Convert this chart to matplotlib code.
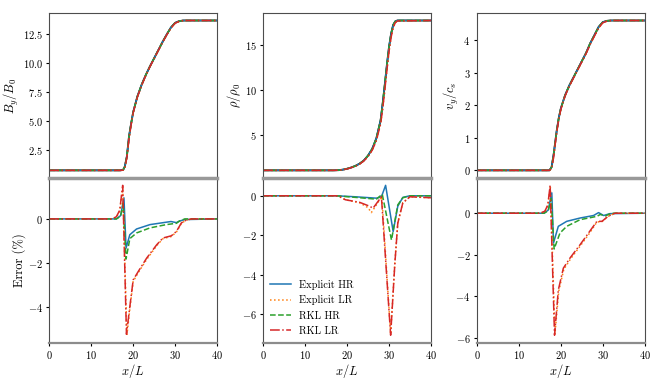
import matplotlib
matplotlib.use("Agg")
import matplotlib.pyplot as plt

plt.rcParams["font.family"] = "serif"
plt.rcParams["font.serif"] = ["cmr10"]
plt.rcParams["mathtext.fontset"] = "cm"
plt.rcParams["axes.formatter.use_mathtext"] = True
plt.rcParams["font.size"] = 7.5
plt.rcParams["xtick.major.size"] = 2.5
plt.rcParams["ytick.major.size"] = 2.5
plt.rcParams["xtick.major.pad"] = 2.2
plt.rcParams["ytick.major.pad"] = 2.2
plt.rcParams["axes.labelpad"] = 1.5

# Profiles (top row)
x_by = [0, 17.0, 17.6, 18.0, 18.5, 19.0, 19.5, 20, 21, 22, 23, 24, 25, 26, 27, 28, 29, 30, 31, 32, 40]
by_ref = [0.78, 0.78, 0.82, 1.1, 2.0, 3.7, 4.8, 5.8, 7.15, 8.15, 9.0, 9.75, 10.45, 11.15, 11.85, 12.5, 13.1, 13.5, 13.65, 13.7, 13.7]
by_lr = [0.78, 0.78, 0.8, 1.0, 1.9, 3.5, 4.7, 5.75, 7.1, 8.1, 8.95, 9.72, 10.42, 11.12, 11.82, 12.46, 13.05, 13.47, 13.63, 13.7, 13.7]

x_rho = [0, 17, 18, 19, 20, 21, 22, 23, 24, 25, 26, 27, 28, 28.5, 29, 29.5, 30, 30.5, 31, 31.5, 32, 40]
rho_ref = [1.0, 1.0, 1.02, 1.08, 1.18, 1.32, 1.5, 1.75, 2.1, 2.65, 3.4, 4.6, 6.6, 8.5, 10.6, 12.8, 14.8, 16.3, 17.3, 17.7, 17.8, 17.8]
rho_lr = [1.0, 1.0, 1.02, 1.07, 1.16, 1.3, 1.47, 1.7, 2.05, 2.55, 3.25, 4.35, 6.2, 7.9, 10.0, 12.2, 14.3, 15.9, 17.0, 17.55, 17.75, 17.8]

x_vy = [0, 17.3, 17.8, 18.3, 18.7, 19, 19.5, 20, 21, 22, 23, 24, 25, 26, 27, 28, 29, 30, 31, 32, 40]
vy_ref = [0, 0, 0.1, 0.5, 0.9, 1.2, 1.6, 1.9, 2.3, 2.6, 2.85, 3.1, 3.35, 3.6, 3.9, 4.15, 4.4, 4.55, 4.59, 4.6, 4.6]
vy_lr = [0, 0, 0.06, 0.42, 0.85, 1.15, 1.56, 1.87, 2.28, 2.58, 2.83, 3.08, 3.33, 3.58, 3.87, 4.12, 4.37, 4.53, 4.58, 4.6, 4.6]

# Errors (bottom row), By
by_eh_x = [0, 16.0, 17.0, 17.8, 18.3, 19.2, 20.8, 24.0, 27.9, 29.0, 30.3, 31.0, 32.3, 40]
by_eh_y = [0, 0, 0.15, 0.96, -1.33, -0.72, -0.46, -0.26, -0.15, -0.12, -0.17, -0.1, -0.03, 0]
by_el_x = [0, 15.0, 16.0, 16.8, 17.5, 18.5, 19.2, 20.0, 21.2, 23.2, 25.6, 27.1, 29.1, 30.3, 31.5, 32.7, 34, 40]
by_el_y = [0, 0, 0.08, 0.35, 1.45, -5.3, -4.1, -2.85, -2.45, -1.85, -1.22, -0.9, -0.8, -0.6, -0.2, -0.05, 0, 0]
by_rh_x = [0, 16.0, 17.0, 17.6, 18.3, 19.2, 20.8, 24.0, 27.9, 30.3, 31.0, 32.3, 40]
by_rh_y = [0, 0, 0.12, 0.7, -1.83, -0.9, -0.64, -0.41, -0.26, -0.2, -0.1, 0, 0]
by_rl_x = [0, 15.0, 16.0, 16.8, 17.5, 18.4, 19.2, 20.0, 21.2, 23.2, 25.6, 27.1, 29.1, 30.3, 31.5, 32.7, 34, 40]
by_rl_y = [0, 0, 0.1, 0.4, 1.53, -5.26, -4.0, -2.78, -2.4, -1.79, -1.18, -0.87, -0.77, -0.57, -0.18, -0.05, 0, 0]

# Errors, rho
rho_eh_x = [0, 17.5, 22, 27.0, 28.2, 29.2, 31.0, 32.1, 33.3, 35, 40]
rho_eh_y = [0, 0, -0.05, -0.12, -0.05, 0.53, -1.81, -0.53, -0.08, 0, 0]
rho_el_x = [0, 17.5, 18.3, 19.6, 23.0, 25.0, 25.8, 27.8, 28.3, 30.4, 31.4, 32.1, 33.3, 35, 40]
rho_el_y = [0, 0, -0.05, -0.2, -0.35, -0.6, -0.85, -0.2, -0.05, -7.0, -3.4, -1.35, -0.35, -0.05, -0.1]
rho_rh_x = [0, 17.5, 22, 27.0, 28.4, 30.6, 32.1, 33.3, 35, 40]
rho_rh_y = [0, 0, -0.08, -0.17, 0.08, -2.24, -0.46, -0.1, 0, 0]
rho_rl_x = [0, 17.5, 18.3, 19.6, 23.0, 25.4, 26.2, 28.2, 30.4, 31.4, 32.1, 33.3, 35, 40]
rho_rl_y = [0, 0, -0.05, -0.2, -0.33, -0.53, -0.63, -0.05, -7.06, -3.44, -1.39, -0.36, -0.05, -0.1]

# Errors, vy
vy_eh_x = [0, 16.0, 17.0, 17.85, 18.25, 19.4, 21.4, 24.6, 27.8, 29.0, 30.2, 31.7, 40]
vy_eh_y = [0, 0, 0.15, 0.98, -1.43, -0.63, -0.39, -0.23, -0.11, 0.03, -0.11, -0.02, 0]
vy_el_x = [0, 15.1, 16.2, 16.9, 17.5, 18.6, 19.5, 20.7, 22.3, 24.7, 26.7, 28.6, 29.8, 31.3, 32.9, 40]
vy_el_y = [0, 0, 0.08, 0.35, 1.25, -5.8, -3.75, -2.7, -2.2, -1.55, -1.0, -0.42, -0.4, -0.15, 0, 0]
vy_rh_x = [0, 16.0, 17.0, 17.7, 18.4, 19.8, 21.4, 24.6, 28.6, 29.4, 30.6, 32.0, 40]
vy_rh_y = [0, 0, 0.12, 0.7, -1.72, -0.95, -0.63, -0.31, -0.15, -0.06, -0.13, 0, 0]
vy_rl_x = [0, 15.1, 16.2, 16.9, 17.45, 18.5, 19.4, 20.6, 22.2, 24.6, 26.6, 28.6, 29.8, 31.3, 32.9, 40]
vy_rl_y = [0, 0, 0.1, 0.4, 1.34, -5.86, -3.69, -2.64, -2.15, -1.51, -0.95, -0.39, -0.39, -0.14, 0, 0]

labels = ["Explicit HR", "Explicit LR", "RKL HR", "RKL LR"]
colors = ["C0", "C1", "C2", "C3"]
styles = ["-", ":", "--", "-."]

fig, axes = plt.subplots(2, 3, figsize=(6.64, 3.88), dpi=100, sharex="col")
plt.subplots_adjust(left=0.0742, right=0.971, top=0.9665, bottom=0.1168, wspace=0.274, hspace=0)

tops = [
    (x_by, by_ref, by_lr, r"$B_y/B_0$"),
    (x_rho, rho_ref, rho_lr, r"$\rho/\rho_0$"),
    (x_vy, vy_ref, vy_lr, r"$v_y/c_s$"),
]
bottoms = [
    [(by_eh_x, by_eh_y), (by_el_x, by_el_y), (by_rh_x, by_rh_y), (by_rl_x, by_rl_y)],
    [(rho_eh_x, rho_eh_y), (rho_el_x, rho_el_y), (rho_rh_x, rho_rh_y), (rho_rl_x, rho_rl_y)],
    [(vy_eh_x, vy_eh_y), (vy_el_x, vy_el_y), (vy_rh_x, vy_rh_y), (vy_rl_x, vy_rl_y)],
]

for j in range(3):
    ax = axes[0, j]
    x, ref, lr, ylab = tops[j]
    ax.plot(x, ref, color="k", lw=1.3)
    sets = [ref, lr, ref, lr]
    for k in range(4):
        ax.plot(x, sets[k], color=colors[k], ls=styles[k], lw=1.1)
    ax.set_ylabel(ylab, fontsize=9)

    ax2 = axes[1, j]
    for k in range(4):
        bx, by = bottoms[j][k]
        ax2.plot(bx, by, color=colors[k], ls=styles[k], lw=1.1, label=labels[k])
    ax2.set_xlim(0, 40)
    ax2.set_xticks([0, 10, 20, 30, 40])
    ax2.set_xlabel(r"$x/L$", fontsize=9, labelpad=0.5)

    for a in (ax, ax2):
        for s in a.spines.values():
            s.set_color("0.3")
    ax.spines["bottom"].set_color("0.2")
    ax2.spines["top"].set_color("0.6")
    ax2.spines["top"].set_linewidth(2.5)
    ax2.spines["bottom"].set_color("0.55")
    ax2.spines["bottom"].set_linewidth(1.6)

axes[1, 0].set_ylabel("Error (%)", fontsize=9)
axes[1, 1].legend(loc="lower left", frameon=False, labelspacing=0.55, borderaxespad=0.25)

plt.savefig("out.png", dpi=100)
